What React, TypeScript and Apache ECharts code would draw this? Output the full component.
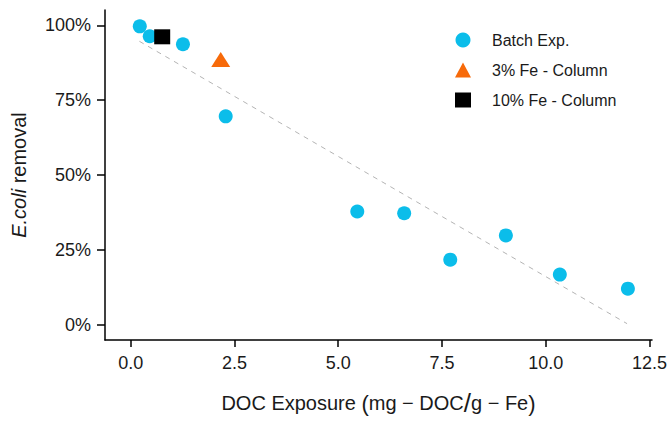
import React, { useEffect, useRef } from "react";
import * as echarts from "echarts";

const batchX = [0.22, 0.46, 1.26, 2.29, 5.46, 6.59, 7.7, 9.04, 10.34, 11.98];
const batchY = [99.7, 96.4, 93.7, 69.6, 37.8, 37.2, 21.7, 29.8, 16.7, 12.0];
const fe3X = [2.17];
const fe3Y = [88.6];
const fe10X = [0.76];
const fe10Y = [96.2];
const fitX = [0.21, 11.96];
const fitY = [94.7, 0.3];
const xTicks = [0, 2.5, 5, 7.5, 10, 12.5];
const yTicks = [0, 25, 50, 75, 100];
const names = ["Batch Exp.", "3% Fe - Column", "10% Fe - Column"];

const zip = (xs: number[], ys: number[]) => xs.map((x, i) => [x, ys[i]]);

const FONT = "'Liberation Sans', Arial, sans-serif";
const TXT = "#1a1a1a";

export default function App() {
  const ref = useRef<HTMLDivElement>(null);
  useEffect(() => {
    if (!ref.current) return;
    const chart = echarts.init(ref.current, null, { renderer: "svg" });
    chart.setOption({
      animation: false,
      backgroundColor: "#ffffff",
      textStyle: { fontFamily: FONT, color: TXT },
      grid: { left: 105, right: 17, top: 10, bottom: 75, containLabel: false },
      legend: {
        orient: "vertical",
        left: 455,
        top: 32,
        padding: 0,
        itemWidth: 16,
        itemHeight: 15,
        itemGap: 14,
        data: [
          { name: names[0], icon: "circle" },
          { name: names[1], icon: "triangle" },
          { name: names[2], icon: "rect" },
        ],
        textStyle: { fontSize: 16, color: TXT, fontFamily: FONT, padding: [0, 0, 0, 16] },
      },
      xAxis: {
        type: "value",
        min: -0.618,
        max: 12.56,
        splitLine: { show: false },
        axisLine: { show: true, onZero: false, lineStyle: { color: "#000", width: 1.5 } },
        axisTick: { show: true, length: 7, customValues: xTicks, lineStyle: { color: "#000", width: 1.5 } },
        axisLabel: {
          customValues: xTicks,
          margin: 14,
          fontSize: 18,
          color: TXT,
          fontFamily: FONT,
          formatter: (v: number) => v.toFixed(1),
        },
        name: "DOC Exposure {p|(}mg − DOC{s|/}g − Fe{p|)}",
        nameLocation: "middle",
        nameGap: 50,
        nameTextStyle: {
          fontSize: 20,
          color: TXT,
          fontFamily: FONT,
          rich: {
            p: { fontSize: 22, color: TXT, fontFamily: FONT },
            s: { fontSize: 26, color: TXT, fontFamily: FONT },
          },
        },
      },
      yAxis: {
        type: "value",
        min: -5.16,
        max: 105.16,
        splitLine: { show: false },
        axisLine: { show: true, onZero: false, lineStyle: { color: "#000", width: 1.5 } },
        axisTick: { show: true, length: 8, customValues: yTicks, lineStyle: { color: "#000", width: 1.5 } },
        axisLabel: {
          customValues: yTicks,
          margin: 14,
          fontSize: 18,
          color: TXT,
          fontFamily: FONT,
          formatter: (v: number) => `${Math.round(v)}%`,
        },
        name: "{i|E.coli} removal",
        nameLocation: "middle",
        nameRotate: 90,
        nameGap: 76,
        nameTextStyle: {
          fontSize: 20,
          color: TXT,
          fontFamily: FONT,
          rich: {
            i: { fontSize: 20, fontStyle: "italic", color: TXT, fontFamily: FONT },
          },
        },
      },
      series: [
        {
          name: "fit",
          type: "line",
          data: zip(fitX, fitY),
          symbol: "none",
          silent: true,
          z: 1,
          lineStyle: { color: "#b4b4b4", width: 1, type: [5, 5] },
        },
        {
          name: names[0],
          type: "scatter",
          data: zip(batchX, batchY),
          symbol: "circle",
          symbolSize: 14,
          itemStyle: { color: "#0bbdea", opacity: 1 },
          z: 3,
        },
        {
          name: names[1],
          type: "scatter",
          data: zip(fe3X, fe3Y),
          symbol: "triangle",
          symbolSize: [19, 15],
          itemStyle: { color: "#f76a0a", opacity: 1 },
          z: 3,
        },
        {
          name: names[2],
          type: "scatter",
          data: zip(fe10X, fe10Y),
          symbol: "rect",
          symbolSize: [16, 15],
          itemStyle: { color: "#000000", opacity: 1 },
          z: 4,
        },
      ],
    });
    return () => chart.dispose();
  }, []);
  return <div ref={ref} style={{ width: 670, height: 421, position: "absolute", left: 0, top: 0 }} />;
}
